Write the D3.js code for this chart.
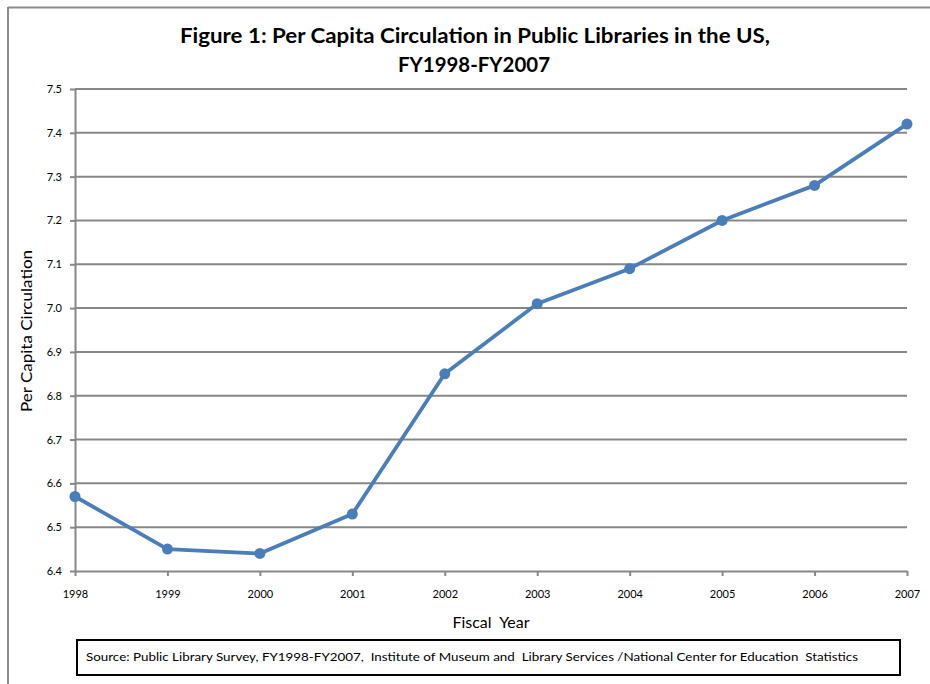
<!DOCTYPE html>
<html>
<head>
<meta charset="utf-8">
<script src="https://cdn.jsdelivr.net/npm/d3@7"></script>
<style>
  html, body { margin: 0; padding: 0; background: #fff; }
  svg { display: block; }
  text { font-family: Lato, "Open Sans", sans-serif; fill: #000; }
</style>
</head>
<body>
<svg id="chart" width="930" height="684"></svg>
<script>
const years = [1998, 1999, 2000, 2001, 2002, 2003, 2004, 2005, 2006, 2007];
const circulation = [6.57, 6.45, 6.44, 6.53, 6.85, 7.01, 7.09, 7.20, 7.28, 7.42];
const yTicks = [6.4, 6.5, 6.6, 6.7, 6.8, 6.9, 7.0, 7.1, 7.2, 7.3, 7.4, 7.5];
const titleLines = ["Figure 1: Per Capita Circulation in Public Libraries in the US,", "FY1998-FY2007"];
const xTitle = "Fiscal  Year";
const yTitle = "Per Capita Circulation";
const sourceText = "Source: Public Library Survey, FY1998-FY2007,  Institute of Museum and  Library Services /National Center for Education  Statistics";

const svg = d3.select("#chart");
const gridColor = "#878787";
const lineColor = "#4a7ebb";

// outer frame
svg.append("line").attr("x1", 8).attr("x2", 930).attr("y1", 7.5).attr("y2", 7.5)
  .attr("stroke", "#8c8c8c").attr("stroke-width", 2);
svg.append("line").attr("x1", 8).attr("x2", 8).attr("y1", 7).attr("y2", 684)
  .attr("stroke", "#8c8c8c").attr("stroke-width", 2);

const x = d3.scaleLinear().domain([1998, 2007]).range([75, 907]);
const y = d3.scaleLinear().domain([6.4, 7.5]).range([571, 89]);

// title
svg.append("text").attr("x", 475).attr("y", 43).attr("text-anchor", "middle")
  .attr("font-size", 20).attr("font-weight", "bold")
  .attr("textLength", 590).attr("lengthAdjust", "spacingAndGlyphs")
  .text(titleLines[0]);
svg.append("text").attr("x", 474).attr("y", 72).attr("text-anchor", "middle")
  .attr("font-size", 20).attr("font-weight", "bold")
  .attr("textLength", 152).attr("lengthAdjust", "spacingAndGlyphs")
  .text(titleLines[1]);

// gridlines
svg.append("g").selectAll("line").data(yTicks.filter(d => d > 6.4)).join("line")
  .attr("x1", x(1998)).attr("x2", x(2007))
  .attr("y1", d => y(d)).attr("y2", d => y(d))
  .attr("stroke", gridColor).attr("stroke-width", 2);

// y axis
const yAxis = d3.axisLeft(y).tickValues(yTicks).tickFormat(d3.format(".1f")).tickSize(5).tickSizeOuter(0);
const gy = svg.append("g").attr("transform", `translate(${x(1998)},0)`).call(yAxis);
gy.select(".domain").attr("stroke", gridColor).attr("stroke-width", 2);
gy.selectAll(".tick line").attr("stroke", gridColor).attr("stroke-width", 2);
gy.selectAll(".tick text").attr("font-family", "Lato, sans-serif").attr("font-size", 11).attr("fill", "#000").attr("x", -13);

// x axis
const xAxis = d3.axisBottom(x).tickValues(years).tickFormat(d3.format("d")).tickSize(5).tickSizeOuter(0);
const gx = svg.append("g").attr("transform", `translate(0,${y(6.4)})`).call(xAxis);
gx.select(".domain").attr("stroke", gridColor).attr("stroke-width", 2);
gx.selectAll(".tick line").attr("stroke", gridColor).attr("stroke-width", 2);
gx.selectAll(".tick text").attr("font-family", "Lato, sans-serif").attr("font-size", 11).attr("fill", "#000").attr("dy", 0).attr("y", 27);

// axis titles
svg.append("text").attr("x", 491).attr("y", 628).attr("text-anchor", "middle")
  .attr("font-size", 16).style("white-space", "pre").text(xTitle);
svg.append("text").attr("transform", "translate(32,331) rotate(-90)").attr("text-anchor", "middle")
  .attr("font-size", 15.5).attr("textLength", 162).attr("lengthAdjust", "spacingAndGlyphs").text(yTitle);

// data line
const data = years.map((yr, i) => ({ yr, v: circulation[i] }));
svg.append("path").datum(data)
  .attr("d", d3.line().x(d => x(d.yr)).y(d => y(d.v)))
  .attr("fill", "none").attr("stroke", lineColor).attr("stroke-width", 3.8)
  .attr("stroke-linejoin", "round");
svg.append("g").selectAll("circle").data(data).join("circle")
  .attr("cx", d => x(d.yr)).attr("cy", d => y(d.v)).attr("r", 5.5)
  .attr("fill", lineColor);

// source box
svg.append("rect").attr("x", 77).attr("y", 640).attr("width", 823).attr("height", 35)
  .attr("fill", "#fff").attr("stroke", "#000").attr("stroke-width", 2);
svg.append("text").attr("x", 86).attr("y", 661).attr("font-size", 12)
  .attr("textLength", 772).attr("lengthAdjust", "spacingAndGlyphs")
  .style("white-space", "pre").text(sourceText);
</script>
</body>
</html>
